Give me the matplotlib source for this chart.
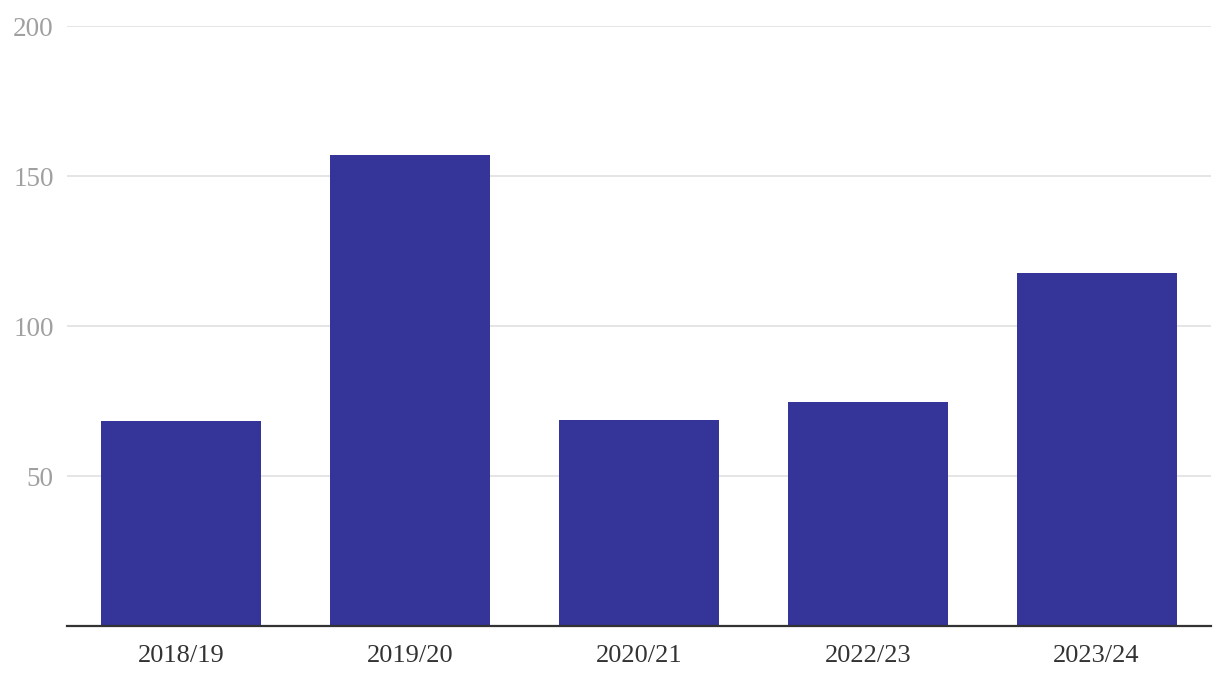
import matplotlib.pyplot as plt

seasons = ['2018/19', '2019/20', '2020/21', '2022/23', '2023/24']
values = [68.3, 157.0, 68.7, 74.7, 117.7]
yticks = [50, 100, 150, 200]

plt.rcParams['font.family'] = ['Liberation Serif', 'DejaVu Serif']

fig = plt.figure(figsize=(12.2, 6.84), dpi=100)
ax = fig.add_axes([67 / 1220, 58 / 684, 1144 / 1220, 600 / 684])

ax.bar(range(len(seasons)), values, width=0.7, color='#353498', zorder=2)

ax.set_xlim(-0.5, len(seasons) - 0.5)
ax.set_ylim(0, 200)
ax.set_yticks(yticks)
ax.set_xticks(range(len(seasons)))
ax.set_xticklabels(seasons)
ax.grid(axis='y', color='#e3e3e3', linewidth=1.3, zorder=0)

for s in ['top', 'right', 'left']:
    ax.spines[s].set_visible(False)
ax.spines['bottom'].set_color('#333333')
ax.spines['bottom'].set_linewidth(1.6)
ax.spines['bottom'].set_zorder(3)

ax.tick_params(axis='y', length=0, pad=9.5, labelsize=19.5, labelcolor='#a0a0a0')
ax.tick_params(axis='x', length=0, pad=14, labelsize=19, labelcolor='#333333')

fig.savefig('out.png', dpi=100)
